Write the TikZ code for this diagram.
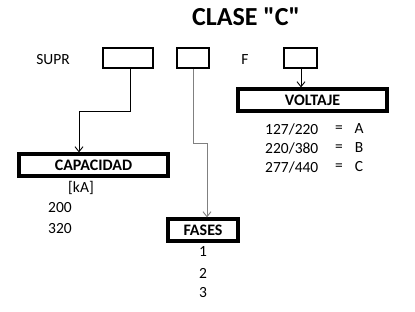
\documentclass[tikz,border=0pt]{standalone}
\usepackage{fontspec}
\setmainfont{Carlito}[Ligatures=TeXOff]
\usetikzlibrary{arrows.meta}
\begin{document}
\begin{tikzpicture}[x=1pt,y=-1pt,
  txt/.style={inner sep=0pt,font=\fontsize{15.5}{17}\selectfont},
  field/.style={draw,line width=1.6pt,inner sep=0pt,minimum height=20pt},
  head/.style={draw,line width=3.2pt,inner sep=0pt,minimum height=22pt,font=\fontsize{16}{18}\selectfont\bfseries},
  conn/.style={line width=0.9pt,-{Straight Barb[length=5pt,width=8pt]}}]
\useasboundingbox (0,0) rectangle (415,311);
\node[inner sep=0pt,font=\fontsize{26}{28}\selectfont\bfseries] (title) at (246,17) {CLASE "C"};
\node[txt] (supr) at (53,60) {SUPR};
\node[field,minimum width=50pt] (b1) at (128,58) {};
\node[field,minimum width=32pt] (b2) at (193,58) {};
\node[txt] (f) at (245,60) {F};
\node[field,minimum width=33pt] (b3) at (300.5,58) {};
\node[head,minimum width=149pt] (volt) at (312.5,100) {VOLTAJE};
\node[head,minimum width=149pt] (cap) at (93.5,165) {CAPACIDAD};
\node[head,minimum width=70pt] (fases) at (203,230) {FASES};
\coordinate (c1a) at (130,111);
\coordinate (c1b) at (79,111);
\coordinate (c2a) at (193,143);
\coordinate (c2b) at (207,143);
\coordinate (c3) at (301,0);
\draw[conn] (b1.south -| c1a) -- (c1a) -- (c1b) -- (c1b |- cap.north);
\draw[conn,gray] (b2.south -| c2a) -- (c2a) -- (c2b) -- (c2b |- fases.north);
\draw[conn] (b3.south -| c3) -- (volt.north -| c3);
\node[txt,anchor=west] (v1) at (265,129) {127/220};
\node[txt,anchor=west] (v2) at (265,148) {220/380};
\node[txt,anchor=west] (v3) at (265,167) {277/440};
\node[txt] (e1) at (339,129) {=};
\node[txt] (e2) at (339,148) {=};
\node[txt] (e3) at (339,167) {=};
\node[txt] (l1) at (359,129) {A};
\node[txt] (l2) at (359,148) {B};
\node[txt] (l3) at (359,167) {C};
\node[txt] (ka) at (81,188) {[kA]};
\node[txt] (k1) at (60,208) {200};
\node[txt] (k2) at (60,229) {320};
\node[txt] (p1) at (203,252) {1};
\node[txt] (p2) at (203,273) {2};
\node[txt] (p3) at (203,293) {3};
\end{tikzpicture}
\end{document}
